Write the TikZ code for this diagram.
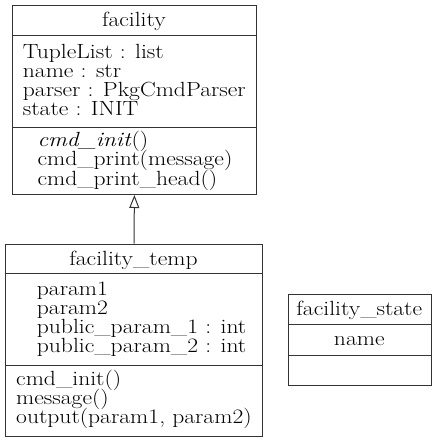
\documentclass[tikz,border=0pt]{standalone}
\usepackage{graphicx}
\usetikzlibrary{arrows.meta}
\newcommand{\sx}[1]{\scalebox{1.15}[1]{#1}}
\begin{document}
\begin{tikzpicture}[x=1pt,y=-1pt,
  umlbox/.style={draw=black!80, line width=1pt, rectangle, inner sep=0pt, anchor=north west},
  sepline/.style={draw=black!80, line width=1pt},
  lbl/.style={inner sep=0pt, anchor=base west, font=\fontsize{20.5}{19}\selectfont},
  clbl/.style={inner sep=0pt, anchor=base, font=\fontsize{20.5}{19}\selectfont},
  inherit/.style={draw=black!80, line width=1pt, -{Triangle[open,length=13pt,width=10pt]}}]
\useasboundingbox (0,0) rectangle (437,441);

% facility
\node[umlbox, minimum width=243.2pt, minimum height=189pt] (fac) at (12.3,5) {};
\draw[sepline] (12.3,36) -- (255.5,36);
\draw[sepline] (12.3,127) -- (255.5,127);
\node[clbl] (factitle) at (133.9,26.5) {\sx{facility}};
\foreach \t [count=\i] in {{TupleList : list},{name : str},{parser : PkgCmdParser},{state : INIT}}
  \node[lbl] (faca\i) at (22.7,{58.3+19.2*(\i-1)}) {\sx{\t}};
\foreach \t [count=\i] in {{\textit{cmd\_init}()},{cmd\_print(message)},{cmd\_print\_head()}}
  \node[lbl] (facm\i) at (37.3,{146.7+19.2*(\i-1)}) {\sx{\t}};

% facility_temp
\node[umlbox, minimum width=257.6pt, minimum height=192pt] (tmp) at (4.7,243.5) {};
\draw[sepline] (4.7,273.5) -- (262.3,273.5);
\draw[sepline] (4.7,365) -- (262.3,365);
\node[clbl] (tmptitle) at (133.5,265) {\sx{facility\_temp}};
\foreach \t [count=\i] in {{param1},{param2},{public\_param\_1 : int},{public\_param\_2 : int}}
  \node[lbl] (tmpa\i) at (36.7,{295+19.3*(\i-1)}) {\sx{\t}};
\foreach \t [count=\i] in {{cmd\_init()},{message()},{output(param1, param2)}}
  \node[lbl] (tmpm\i) at (16,{385+19*(\i-1)}) {\sx{\t}};

% facility_state
\node[umlbox, minimum width=143.5pt, minimum height=91pt] (st) at (287.5,294) {};
\draw[sepline] (287.5,324) -- (431,324);
\draw[sepline] (287.5,355) -- (431,355);
\node[clbl] (sttitle) at (359.3,315.5) {\sx{facility\_state}};
\node[clbl] (stname) at (359.3,345.5) {\sx{name}};

% inheritance
\draw[inherit] (tmp.north) -- (fac.south);
\end{tikzpicture}
\end{document}
